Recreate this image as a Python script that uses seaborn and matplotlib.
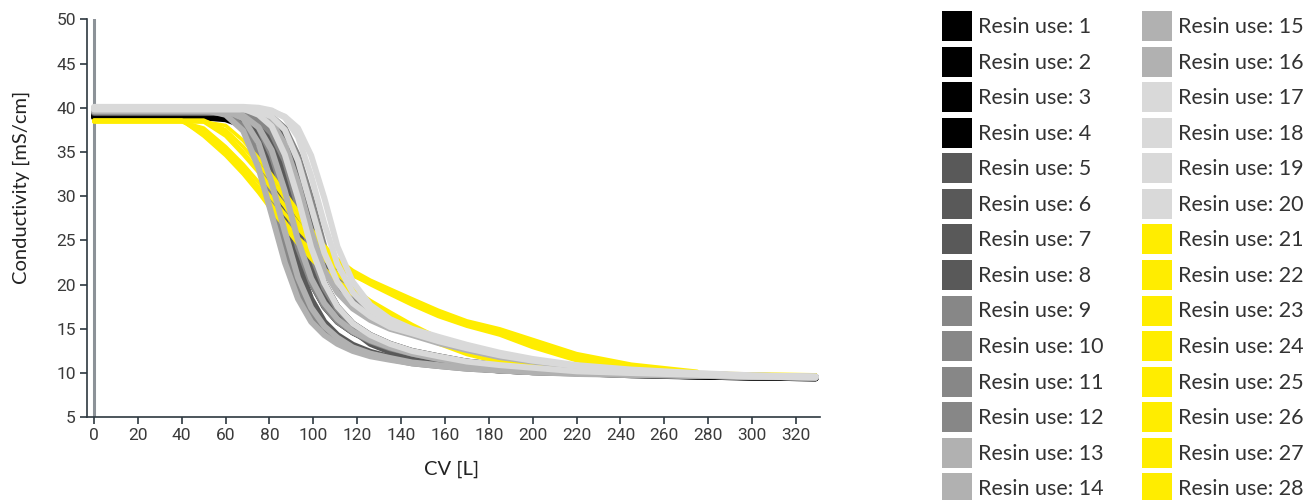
import numpy as np
import pandas as pd
import matplotlib
matplotlib.use("Agg")
import matplotlib.pyplot as plt
from matplotlib.patches import Patch
import seaborn as sns

# Column volume grid shared by all runs [L]
CV = [0, 40, 50, 60, 68, 75, 81, 87, 93, 99, 105, 111, 118, 126, 135, 145,
      157, 170, 185, 200, 220, 245, 275, 300, 329]

NA = np.nan

# Conductivity [mS/cm] for each resin use
use_01 = [39.0, 39.0, 39.0, 38.9, 38.6, 37.5, 35.2, 30.6, 25.0, 20.7, 17.9, 16.1, 14.7, 13.7, 12.9, 12.2, 11.6, 11.1, 10.8, 10.4, 10.2, 9.9, 9.7, 9.5, 9.5]
use_02 = [39.2, 39.2, 39.2, 39.2, 39.1, 38.6, 37.5, 34.6, 29.8, 24.2, 20.2, 17.5, 15.6, 14.3, 13.3, 12.5, 11.9, 11.3, 10.9, 10.5, 10.2, 10.0, 9.7, 9.6, 9.5]
use_03 = [39.5, 39.5, 39.5, 39.5, 39.1, 37.7, 34.6, 29.8, 24.2, 20.2, 17.5, 15.8, 14.6, 13.6, 12.8, 12.2, 11.6, 11.1, 10.7, 10.4, 10.15, 9.85, 9.6, 9.5, 9.4]
use_04 = [38.9, 38.9, 38.9, 38.7, 38.0, 35.8, 31.5, 26.0, 20.8, 17.4, 15.3, 14.0, 12.9, 12.2, 11.7, 11.2, 10.9, 10.6, 10.3, 10.1, 10.0, 9.75, 9.6, 9.5, 9.4]
use_05 = [39.6, 39.6, 39.6, 39.4, 38.7, 36.9, 33.2, 27.9, 22.5, 18.4, 15.8, 14.3, 13.2, 12.4, 11.8, 11.3, 10.9, 10.6, 10.3, 10.15, 10.0, 9.8, 9.7, 9.6, 9.5]
use_06 = [39.4, 39.4, 39.4, 39.4, 39.0, 38.2, 36.2, 32.3, 26.9, 22.0, 18.6, 16.6, 15.1, 13.9, 13.0, 12.3, 11.7, 11.2, 10.8, 10.5, 10.2, 9.9, 9.75, 9.6, 9.5]
use_07 = [39.8, 39.8, 39.8, 39.8, 39.7, 39.2, 38.0, 35.2, 30.6, 25.0, 20.2, 17.0, 14.8, 13.3, 12.4, 11.7, 11.2, 10.8, 10.5, 10.3, 10.1, 9.9, 9.7, 9.6, 9.5]
use_08 = [39.5, 39.5, 39.5, 39.5, 39.5, 39.1, 38.5, 36.8, 33.2, 27.9, 23.0, 19.8, 17.7, 16.3, 15.2, 14.4, 13.6, 12.7, 11.9, 11.3, 10.7, 10.3, 9.9, 9.7, 9.6]
use_09 = [39.7, 39.7, 39.7, 39.3, 37.9, 34.6, 29.8, 24.2, 19.6, 16.6, 14.8, 13.6, 12.7, 12.0, 11.6, 11.1, 10.8, 10.5, 10.3, 10.1, 9.95, 9.8, 9.7, 9.6, 9.5]
use_10 = [39.9, 39.9, 39.9, 39.8, 39.3, 37.8, 34.6, 29.8, 24.2, 20.2, 17.5, 15.8, 14.6, 13.6, 12.8, 12.2, 11.6, 11.1, 10.7, 10.4, 10.2, 9.9, 9.7, 9.6, 9.5]
use_11 = [39.5, 39.5, 39.5, 39.5, 39.3, 38.6, 37.1, 34.0, 28.8, 23.5, 19.6, 17.2, 15.4, 14.1, 13.2, 12.4, 11.8, 11.3, 10.9, 10.5, 10.2, 9.95, 9.8, 9.6, 9.5]
use_12 = [39.8, 39.8, 39.8, 39.8, 39.8, 39.6, 39.0, 37.7, 34.6, 29.8, 24.3, 20.7, 18.2, 16.6, 15.3, 14.5, 13.7, 12.8, 12.0, 11.4, 10.8, 10.3, 9.9, 9.7, 9.6]
use_13 = [39.8, 39.8, 39.8, 39.2, 37.4, 33.2, 27.9, 22.5, 18.4, 15.8, 14.3, 13.3, 12.5, 11.9, 11.5, 11.1, 10.8, 10.5, 10.3, 10.1, 9.9, 9.8, 9.7, 9.55, 9.5]
use_14 = [40.0, 40.0, 40.0, 39.7, 38.8, 36.0, 31.5, 26.0, 20.8, 17.4, 15.3, 14.0, 12.9, 12.2, 11.7, 11.2, 10.9, 10.6, 10.3, 10.1, 10.0, 9.8, 9.7, 9.6, 9.5]
use_15 = [39.6, 39.6, 39.6, 39.5, 39.1, 37.8, 35.2, 30.6, 25.0, 20.7, 17.9, 16.1, 14.7, 13.7, 12.9, 12.2, 11.6, 11.1, 10.8, 10.5, 10.2, 9.9, 9.7, 9.6, 9.5]
use_16 = [39.9, 39.9, 39.9, 39.9, 39.8, 39.4, 38.4, 35.9, 31.5, 26.0, 21.6, 19.1, 17.3, 16.0, 15.0, 14.3, 13.4, 12.6, 11.8, 11.3, 10.7, 10.2, 9.9, 9.7, 9.6]
use_17 = [40.0, 40.0, 40.0, 40.0, 39.9, 39.2, 37.9, 34.7, 29.8, 24.2, 20.2, 17.5, 15.6, 14.3, 13.3, 12.5, 11.9, 11.3, 10.9, 10.6, 10.2, 10.0, 9.8, 9.6, 9.5]
use_18 = [39.9, 39.9, 39.9, 39.9, 39.9, 39.6, 39.0, 37.5, 34.0, 28.8, 23.6, 20.3, 17.9, 16.4, 15.2, 14.5, 13.6, 12.8, 12.0, 11.4, 10.8, 10.3, 9.9, 9.7, 9.6]
use_19 = [40.1, 40.1, 40.1, 40.1, 40.1, 40.0, 39.7, 38.9, 36.7, 32.3, 26.9, 22.3, 19.1, 17.1, 15.7, 14.8, 13.9, 13.0, 12.2, 11.5, 10.8, 10.3, 9.95, 9.7, 9.6]
use_20 = [39.8, 39.8, 39.8, 39.8, 39.8, 39.8, 39.6, 39.0, 37.7, 34.6, 29.8, 24.3, 20.3, 17.7, 16.1, 15.0, 14.1, 13.2, 12.3, 11.6, 10.9, 10.4, 10.0, 9.75, 9.6]
use_21 = [38.6, 38.6, 36.8, 34.6, 32.5, 30.4, 28.4, 26.5, 24.6, 22.9, 21.4, 20.1, 18.9, 17.7, 16.3, 14.8, 13.3, 12.1, 11.2, 10.6, 10.2, NA, NA, NA, NA]
use_22 = [38.5, 38.5, 37.0, 35.0, 32.8, 30.6, 28.7, 26.9, 25.3, 24.0, 22.9, 21.9, 21.0, 20.1, 19.1, 18.0, 16.7, 15.5, 14.5, 13.1, 11.6, 10.6, 10.1, NA, NA]
use_23 = [38.5, 38.5, 37.3, 35.2, 33.1, 31.0, 29.0, 27.1, 25.2, 23.4, 21.8, 20.4, 19.2, 18.0, 16.7, 15.3, 13.8, 12.5, 11.5, 10.8, 10.3, 10.0, NA, NA, NA]
use_24 = [38.4, 38.4, 37.7, 35.6, 33.6, 31.6, 29.8, 28.0, 26.3, 24.8, 23.4, 22.2, 21.1, 20.0, 18.9, 17.7, 16.4, 15.3, 14.3, 12.9, 11.4, 10.5, 10.0, 9.9, 9.8]
use_25 = [38.5, 38.5, 38.4, 36.8, 34.7, 32.7, 30.8, 28.9, 27.0, 25.2, 23.6, 22.3, 21.2, 20.2, 19.1, 17.9, 16.6, 15.5, 14.7, 13.3, 11.8, 10.7, 10.1, NA, NA]
use_26 = [38.6, 38.6, 38.6, 37.5, 35.6, 33.6, 31.8, 29.8, 27.7, 25.8, 24.0, 22.6, 21.4, 20.3, 19.3, 18.2, 16.9, 15.7, 14.9, 13.6, 12.0, 10.8, 10.1, NA, NA]
use_27 = [38.5, 38.5, 38.5, 37.1, 35.0, 32.9, 30.9, 28.9, 26.8, 24.8, 22.9, 21.2, 19.6, 18.2, 16.9, 15.5, 14.0, 12.6, 11.6, 10.9, 10.4, 10.1, NA, NA, NA]
use_28 = [38.4, 38.4, 38.4, 38.0, 36.3, 34.3, 32.4, 30.4, 28.3, 26.3, 24.4, 22.9, 21.6, 20.5, 19.5, 18.4, 17.1, 15.9, 15.0, 13.8, 12.2, 11.0, 10.2, NA, NA]

RUNS = [use_01, use_02, use_03, use_04, use_05, use_06, use_07, use_08,
        use_09, use_10, use_11, use_12, use_13, use_14, use_15, use_16,
        use_17, use_18, use_19, use_20, use_21, use_22, use_23, use_24,
        use_25, use_26, use_27, use_28]

LABELS = [f"Resin use: {i}" for i in range(1, 29)]
GROUP_COLORS = ["#000000", "#595959", "#878787", "#b1b1b1", "#d9d9d9", "#ffed00"]
COLORS = ([GROUP_COLORS[0]] * 4 + [GROUP_COLORS[1]] * 4 + [GROUP_COLORS[2]] * 4 +
          [GROUP_COLORS[3]] * 4 + [GROUP_COLORS[4]] * 4 + [GROUP_COLORS[5]] * 8)

X_TICKS = list(range(0, 321, 20))
Y_TICKS = list(range(5, 51, 5))

frames = []
for label, values in zip(LABELS, RUNS):
    frames.append(pd.DataFrame({"CV": CV, "Conductivity": values, "run": label}))
df = pd.concat(frames, ignore_index=True).dropna()
palette = dict(zip(LABELS, COLORS))

sns.set_theme(style="white")
plt.rcParams["font.family"] = ["Lato", "DejaVu Sans"]

fig = plt.figure(figsize=(13.06, 5.0), dpi=100)
ax = fig.add_axes([0.0666, 0.1654, 0.5613, 0.796])

# vertical reference line at CV = 0
ax.axvline(0, color="#8c9298", lw=2.2, zorder=1)

# draw order: black, dark gray, gray, yellow, then the lighter grays on top
yellow = LABELS[20:28]
draw_order = [LABELS[0:4], LABELS[4:8], LABELS[8:12], yellow,
              LABELS[12:16], LABELS[16:20]]
for z, group in enumerate(draw_order):
    sub = df[df["run"].isin(group)]
    lw = 2.6 if group[0] in yellow else 4.3
    sns.lineplot(data=sub, x="CV", y="Conductivity", hue="run",
                 palette={k: palette[k] for k in group}, hue_order=group,
                 estimator=None, sort=False, linewidth=lw, legend=False,
                 ax=ax, zorder=2 + z)

ax.set_xlim(-3.2, 331)
ax.set_ylim(5, 50)
ax.set_xticks(X_TICKS)
ax.set_yticks(Y_TICKS)
for s in ["top", "right"]:
    ax.spines[s].set_visible(False)
for s in ["left", "bottom"]:
    ax.spines[s].set_color("#2d3840")
    ax.spines[s].set_linewidth(1.2)
ax.tick_params(axis="both", which="major", direction="out", length=5,
               width=1.2, color="#2d3840", labelsize=12.5, labelcolor="#3a3a3a",
               pad=3, left=True, bottom=True)
for t in ax.get_xticklabels() + ax.get_yticklabels():
    t.set_fontfamily(["Roboto", "DejaVu Sans"])
ax.set_xlabel("CV [L]", fontsize=14.5, color="#222222")
ax.set_ylabel("Conductivity [mS/cm]", fontsize=14.5, color="#222222")
ax.xaxis.set_label_coords(0.498, -0.108)
ax.yaxis.set_label_coords(-0.078, 0.577)
ax.grid(False)

handles = [Patch(facecolor=c, edgecolor="none") for c in COLORS]
fig.legend(handles, LABELS, ncol=2, loc="upper left",
           bbox_to_anchor=(0.713, 0.999), frameon=False, fontsize=15.5,
           handlelength=1.39, handleheight=1.77, handletextpad=0.28,
           labelspacing=0.255, columnspacing=1.81, borderpad=0.0,
           labelcolor="#333333")

fig.savefig("out.png", dpi=100, facecolor="white")
